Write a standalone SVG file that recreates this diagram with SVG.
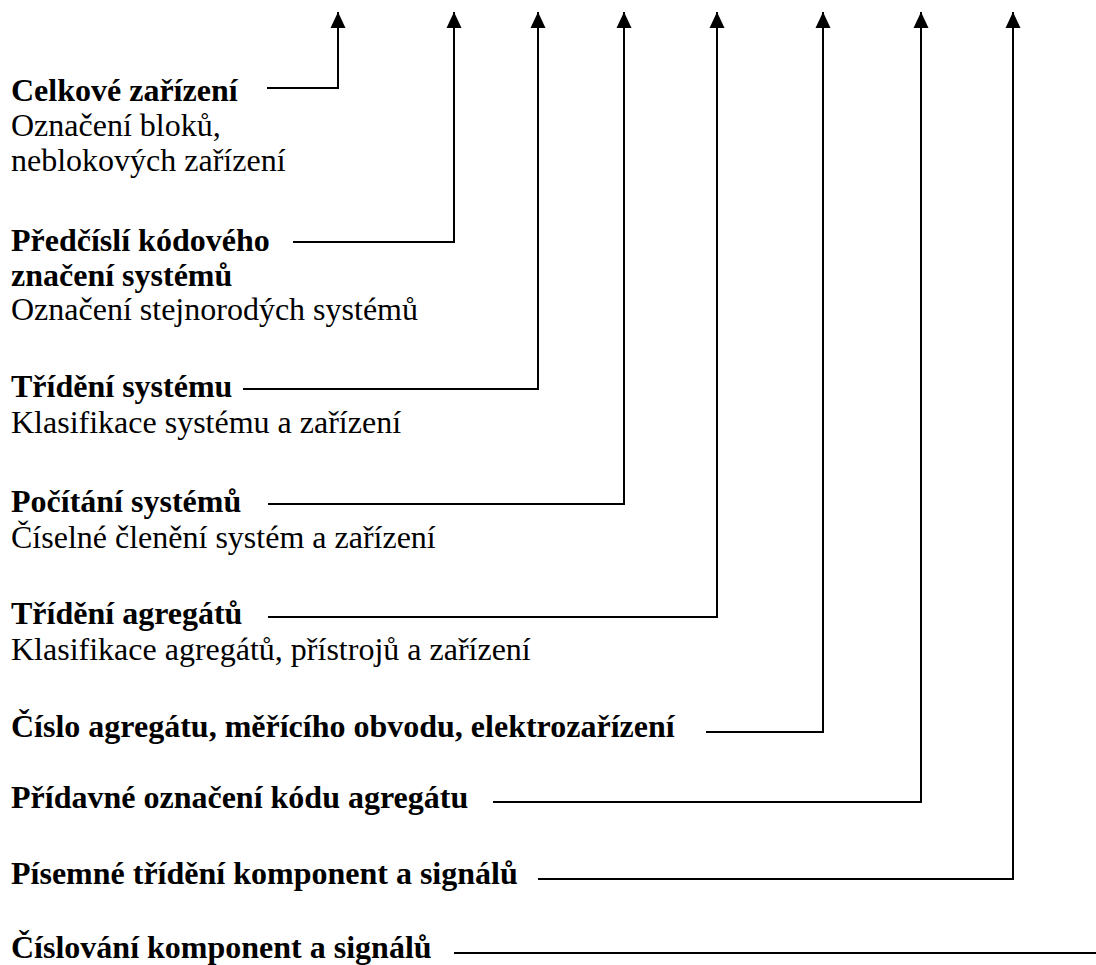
<svg xmlns="http://www.w3.org/2000/svg" width="1096" height="965" viewBox="0 0 1096 965">
<style>
.b{font-family:'Liberation Serif','Times New Roman',serif;font-size:32px;font-weight:bold;fill:#000}
.r{font-family:'Liberation Serif','Times New Roman',serif;font-size:32px;fill:#000}
.c{fill:none;stroke:#000;stroke-width:2}
</style>
<defs>
<marker id="ah" markerUnits="userSpaceOnUse" markerWidth="16" markerHeight="16" refX="16" refY="7.5" orient="auto" viewBox="0 0 16 15">
<path d="M0,0 L16,7.5 L0,15 z" fill="#000"/>
</marker>
</defs>
<rect width="1096" height="965" fill="#fff"/>
<g id="connectors">
<polyline class="c" points="267,88 338,88 338,12" marker-end="url(#ah)"/>
<polyline class="c" points="293,242 454,242 454,12" marker-end="url(#ah)"/>
<polyline class="c" points="243,389 538,389 538,12" marker-end="url(#ah)"/>
<polyline class="c" points="268,504 624,504 624,12" marker-end="url(#ah)"/>
<polyline class="c" points="268,617 717,617 717,12" marker-end="url(#ah)"/>
<polyline class="c" points="706,732 823,732 823,12" marker-end="url(#ah)"/>
<polyline class="c" points="493,802 921,802 921,12" marker-end="url(#ah)"/>
<polyline class="c" points="538,879 1013,879 1013,12" marker-end="url(#ah)"/>
<line class="c" x1="454" y1="953" x2="1096" y2="953"/>
</g>
<g id="n1"><text class="b" x="11" y="101">Celkové zařízení</text><text class="r" x="11" y="136">Označení bloků,</text><text class="r" x="11" y="171">neblokových zařízení</text></g>
<g id="n2"><text class="b" x="11" y="251">Předčíslí kódového</text><text class="b" x="11" y="286">značení systémů</text><text class="r" x="11" y="320">Označení stejnorodých systémů</text></g>
<g id="n3"><text class="b" x="11" y="397">Třídění systému</text><text class="r" x="11" y="433">Klasifikace systému a zařízení</text></g>
<g id="n4"><text class="b" x="11" y="512">Počítání systémů</text><text class="r" x="11" y="548">Číselné členění systém a zařízení</text></g>
<g id="n5"><text class="b" x="11" y="624">Třídění agregátů</text><text class="r" x="11" y="660">Klasifikace agregátů, přístrojů a zařízení</text></g>
<g id="n6"><text class="b" x="11" y="737">Číslo agregátu, měřícího obvodu, elektrozařízení</text></g>
<g id="n7"><text class="b" x="11" y="808">Přídavné označení kódu agregátu</text></g>
<g id="n8"><text class="b" x="11" y="884">Písemné třídění komponent a signálů</text></g>
<g id="n9"><text class="b" x="11" y="958">Číslování komponent a signálů</text></g>
</svg>
